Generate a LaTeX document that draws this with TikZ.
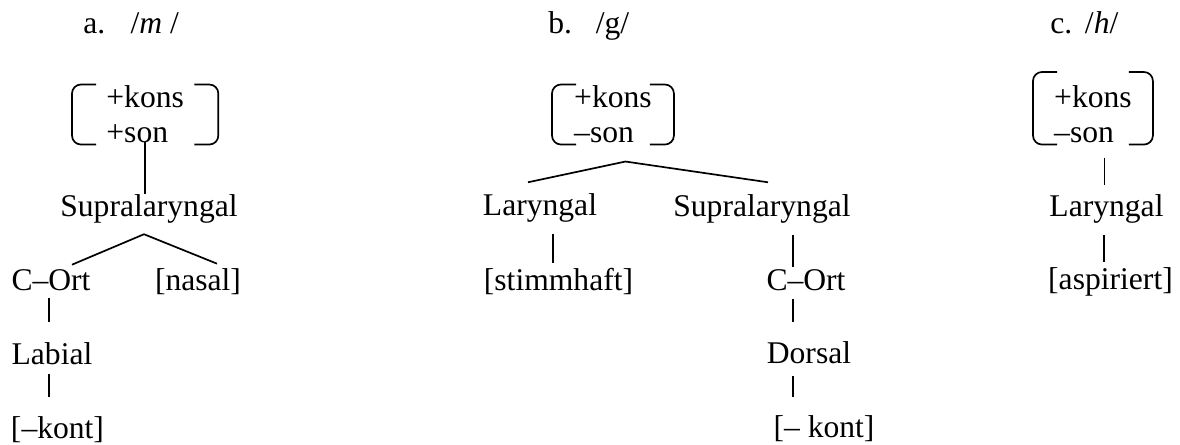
\documentclass[tikz,border=0pt]{standalone}
\usepackage{fontspec}
\setmainfont{Liberation Serif}
\usetikzlibrary{positioning}

% bracket round a feature matrix node (#2 = extra height on top)
\newcommand{\fmbracket}[2]{%
  \draw[bracketline] ([xshift=12pt,yshift=#2]#1.north west) -- ([yshift=#2]#1.north west) -- (#1.south west) -- ([xshift=12pt]#1.south west);
  \draw[bracketline] ([xshift=-12pt,yshift=#2]#1.north east) -- ([yshift=#2]#1.north east) -- (#1.south east) -- ([xshift=-12pt]#1.south east);
}

\begin{document}
\begin{tikzpicture}[
        x=0.5pt, y=-0.5pt,
        every node/.style = {font=\fontsize{15.8pt}{17.5pt}\selectfont},
        lbl/.style = {anchor=base, inner sep=0pt},
        title/.style = {anchor=base west, inner sep=0pt},
        fmat/.style = {anchor=north west, align=left, inner ysep=0.5pt},
        tree/.style = {line width=0.85pt},
        bracketline/.style = {line width=0.85pt, rounded corners=4.5pt}
    ]
        \useasboundingbox (0,0) rectangle (1180,445);

        % === a. /m/ ===
        \node (titleA) [title] at (83,33) {a.\hspace{0.8em}/\textit{m} /};
        \node (fmA) [fmat, inner xsep=17pt] at (72,84.5) {+kons\\+son};
        \node (supA) [lbl] at (149,216) {Supralaryngal};
        \node (cortA) [lbl] at (51,290) {C–Ort};
        \node (nasalA) [lbl] at (198,290) {[nasal]};
        \node (labA) [lbl] at (52,364) {Labial};
        \node (kontA) [lbl] at (57.5,438) {[–kont]};

        % === b. /g/ ===
        \node (titleB) [title] at (548,33) {b.\hspace{0.75em}/g/};
        \node (fmB) [fmat, inner xsep=10.9pt] at (552,84.5) {+kons\\–son};
        \node (larB) [lbl] at (540,215) {Laryngal};
        \node (supB) [lbl] at (762,216) {Supralaryngal};
        \node (stimB) [lbl] at (558.5,290) {[stimmhaft]};
        \node (cortB) [lbl] at (806,290) {C–Ort};
        \node (dorsB) [lbl] at (809,363) {Dorsal};
        \node (kontB) [lbl] at (824,437) {[– kont]};

        % === c. /h/ ===
        \node (titleC) [title] at (1050,33) {c.\hspace{0.4em}/\textit{h}/};
        \node (fmC) [fmat, inner xsep=10.4pt] at (1033,84.5) {+kons\\–son};
        \node (larC) [lbl] at (1106.5,216) {Laryngal};
        \node (aspC) [lbl] at (1110.5,289) {[aspiriert]};

        % === Brackets ===
        \fmbracket{fmA}{0pt}
        \fmbracket{fmB}{0pt}
        \fmbracket{fmC}{6.25pt}

        % === Lines ===
        % a
        \draw [tree, shorten <=-1.5pt] (fmA.south) -- (fmA.south |- supA.north);
        \draw [tree] ([xshift=10.5pt,yshift=2pt]cortA.north) -- ([xshift=-2.5pt,yshift=-5.5pt]supA.south) -- ([xshift=9.5pt,yshift=2pt]nasalA.north);
        \draw [tree, shorten <=3.8pt, shorten >=10pt] ([xshift=-1pt]cortA.south) -- ([xshift=-1pt]cortA.south |- labA.north);
        \draw [tree, shorten <=4.5pt, shorten >=9.5pt] ([xshift=-1.5pt]labA.south) -- ([xshift=-1.5pt]labA.south |- kontA.north);

        % b
        \draw [tree] ([xshift=-6pt,yshift=5.2pt]larB.north) -- ([xshift=6.25pt,yshift=-8.5pt]fmB.south) -- ([xshift=3pt,yshift=5.7pt]supB.north);
        \draw [tree, shorten <=6pt, shorten >=2.2pt] ([xshift=6.5pt]larB.south) -- ([xshift=6.5pt]larB.south |- stimB.north);
        \draw [tree, shorten <=6pt, shorten >=1pt] ([xshift=15.5pt]supB.south) -- ([xshift=15.5pt]supB.south |- cortB.north);
        \draw [tree, shorten <=4.3pt, shorten >=9.2pt] ([xshift=-6.5pt]cortB.south) -- ([xshift=-6.5pt]cortB.south |- dorsB.north);
        \draw [tree, shorten <=6pt, shorten >=8.7pt] ([xshift=-8pt]dorsB.south) -- ([xshift=-8pt]dorsB.south |- kontB.north);

        % c
        \draw [tree, shorten <=6.5pt, shorten >=4.5pt] ([xshift=5.75pt]fmC.south) -- ([xshift=5.75pt]fmC.south |- larC.north);
        \draw [tree, shorten <=6pt, shorten >=2.2pt] ([xshift=-1.25pt]larC.south) -- ([xshift=-1.25pt]larC.south |- aspC.north);

    \end{tikzpicture}
\end{document}
